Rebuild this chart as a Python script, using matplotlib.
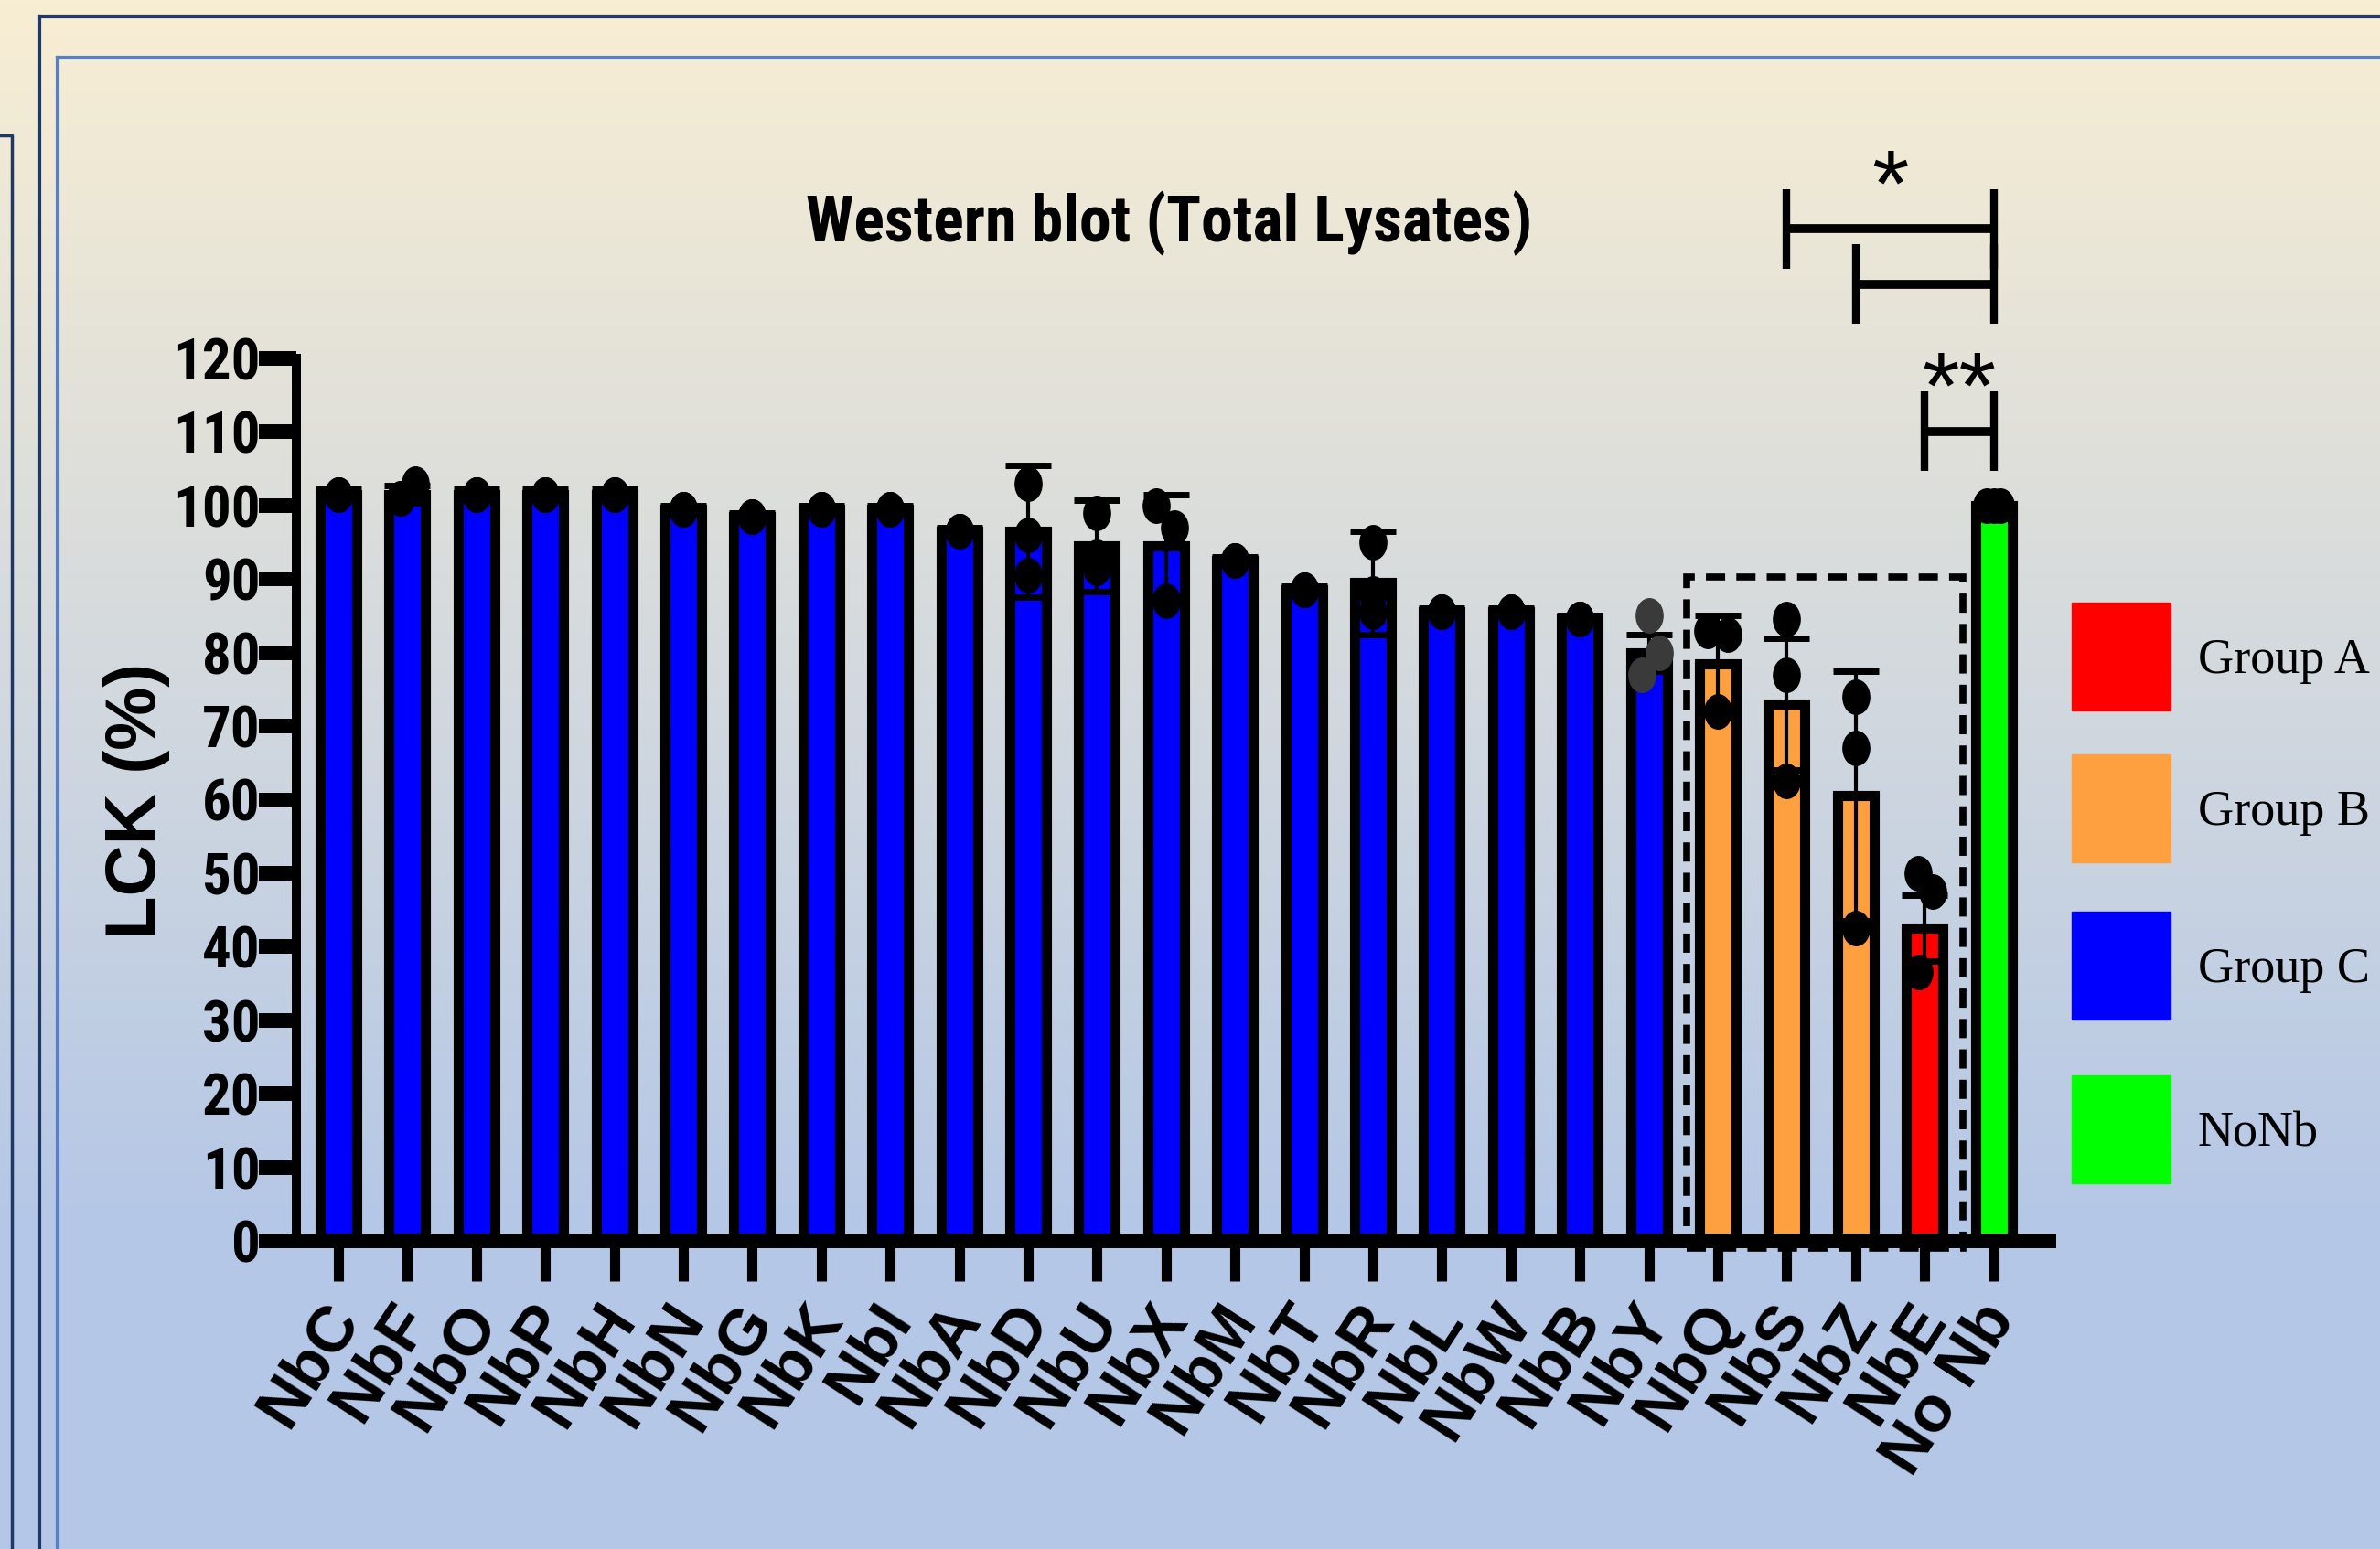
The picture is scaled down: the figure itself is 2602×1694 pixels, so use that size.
import os
import numpy as np
import matplotlib
matplotlib.use("Agg")
import matplotlib.pyplot as plt
from matplotlib import font_manager as fm
from matplotlib.patches import Rectangle
from matplotlib.lines import Line2D
from matplotlib.path import Path
from matplotlib.transforms import Affine2D, ScaledTranslation

# --- data ---
labels = ["NbC", "NbF", "NbO", "NbP", "NbH", "NbN", "NbG", "NbK", "NbI", "NbA",
          "NbD", "NbU", "NbX", "NbM", "NbT", "NbR", "NbL", "NbW", "NbB", "NbY",
          "NbQ", "NbS", "NbZ", "NbE", "No Nb"]
groups = ["Group C"] * 20 + ["Group B"] * 3 + ["Group A", "NoNb"]
means = [101.5, 101.5, 101.5, 101.5, 101.5, 99.5, 98.5, 99.5, 99.5, 96.5,
         96.5, 94.5, 94.5, 92.5, 88.5, 89.5, 85.5, 85.5, 84.5, 80.0,
         78.5, 73.0, 60.5, 42.5, 100.0]
sds = [0.8, 1.2, 0.8, 0.8, 0.8, 0.5, 0.5, 0.5, 0.5, 0.5,
       8.9, 6.2, 7.0, 0.5, 0.5, 7.0, 0.5, 0.5, 0.5, 2.5,
       6.6, 9.0, 17.0, 4.5, 0.0]
points = [[101.5] * 3, [101, 101, 103], [101.5] * 3, [101.5] * 3, [101.5] * 3,
          [99.5] * 3, [98.5] * 3, [99.5] * 3, [99.5] * 3, [96.5] * 3,
          [103, 90.5, 96], [99, 91.5, 93], [100, 97, 87], [92.5] * 3, [88.5] * 3,
          [95, 85.5, 88], [85.5] * 3, [85.5] * 3, [84.5] * 3, [85, 80, 77],
          [83, 82.5, 72], [84.5, 77, 62.5], [74, 67, 42.5], [50, 47.5, 36.5],
          [100, 100, 100]]
point_offsets = [[0, 0, 0], [-0.1, -0.1, 0.12]] + [[0, 0, 0]] * 10 + \
                [[-0.15, 0.12, 0]] + [[0, 0, 0]] * 6 + \
                [[0, 0.15, -0.1], [-0.15, 0.15, 0], [0, 0, 0], [0, 0, 0],
                 [-0.1, 0.12, -0.08], [-0.1, 0, 0.1]]
y_ticks = list(range(0, 121, 10))

group_colors = {"Group A": "#FF0000", "Group B": "#FFA040",
                "Group C": "#0000FF", "NoNb": "#00FF00"}
legend_order = ["Group A", "Group B", "Group C", "NoNb"]

# significance brackets: (start, end, height, stars, star height)
sig_brackets = [("NbS", "No Nb", 137.6, "*", 142.6),
                ("NbZ", "No Nb", 130.1, "", 0),
                ("NbE", "No Nb", 110.1, "**", 115.2)]

W, H = 2602, 1694
sans = ["Liberation Sans", "DejaVu Sans"]
serif = ["Liberation Serif", "DejaVu Serif"]


def find_narrow_bold():
    # the reference uses Arial Narrow-like bold text; take a condensed bold if there is one
    prefs = ["liberationsansnarrow-bold", "arialnarrowbold", "arialnb",
             "robotocondensed-bold", "roboto_condensed-bold",
             "notosans-condensedbold", "notosans-semicondensedbold",
             "opensans-condbold", "opensans_condensed-bold",
             "dejavusanscondensed-bold"]
    files = {}
    for f in fm.fontManager.ttflist:
        key = os.path.basename(f.fname).lower().replace(" ", "").rsplit(".", 1)[0]
        files[key] = f.fname
    for p in prefs:
        if p in files:
            return fm.FontProperties(fname=files[p])
    return fm.FontProperties(family=sans, weight="bold")


narrow_fp = find_narrow_bold()

fig = plt.figure(figsize=(W / 100, H / 100), dpi=100)
renderer = fig.canvas.get_renderer()


def fit_width(txt, target_px):
    w = txt.get_window_extent(renderer=renderer).width
    txt.set_fontsize(txt.get_fontsize() * target_px / w)


# gradient background (cream -> light blue)
bg = fig.add_axes([0, 0, 1, 1], zorder=-10)
top_c = np.array([248, 238, 211]) / 255
bot_c = np.array([180, 199, 231]) / 255
t = np.clip(np.linspace(0, 1, 500) / 0.8, 0, 1)[:, None]
grad = top_c * (1 - t) + bot_c * t
bg.imshow(grad[:, None, :], aspect="auto", extent=[0, 1, 0, 1])
bg.set_axis_off()


def fx(px):
    return px / W


def fy(py):
    return 1 - py / H


# slide frames
navy = "#1F3864"
fig.add_artist(Line2D([fx(43), 1], [fy(18), fy(18)], color=navy, lw=3))
fig.add_artist(Line2D([fx(43), fx(43)], [fy(18), 0], color=navy, lw=3))
fig.add_artist(Line2D([fx(63), 1], [fy(63), fy(63)], color="#5B7FC4", lw=3))
fig.add_artist(Line2D([fx(63), fx(63)], [fy(63), 0], color="#5B7FC4", lw=3))
fig.add_artist(Line2D([0, fx(13), fx(13)], [fy(148), fy(148), 0], color=navy, lw=2.5))

# main axes
ax = fig.add_axes([fx(324), fy(1357), fx(2240) - fx(324), fy(392) - fy(1357)])
ax.patch.set_alpha(0)
x = np.arange(len(labels))
colors = [group_colors[g] for g in groups]

ax.bar(x, means, width=0.53, color=colors, edgecolor="black", linewidth=8, zorder=2)
ax.errorbar(x, means, yerr=sds, fmt="none", ecolor="black", elinewidth=3,
            capsize=18, capthick=5, zorder=3)

ellipse = Path.unit_circle().transformed(Affine2D().scale(0.78, 1.0))
for i, (pts, offs) in enumerate(zip(points, point_offsets)):
    c = "#3A3A3A" if labels[i] == "NbY" else "black"
    ax.scatter(x[i] + np.array(offs), pts, s=27 ** 2, marker=ellipse,
               color=c, zorder=4, clip_on=False)

# dashed box around groups A/B
ax.add_patch(Rectangle((19.55, -1), 4.0, 91.3, fill=False, edgecolor="black",
                       lw=5.5, linestyle=(0, (2.75, 1.6)), clip_on=False, zorder=1))

# significance brackets
idx = {lab: i for i, lab in enumerate(labels)}
for a, b, h, stars, sh in sig_brackets:
    xa, xb = idx[a], idx[b]
    ax.plot([xa, xb], [h, h], color="black", lw=7, clip_on=False, solid_capstyle="butt")
    for xx in (xa, xb):
        ax.plot([xx, xx], [h - 5.4, h + 5.4], color="black", lw=6,
                clip_on=False, solid_capstyle="butt")
    if stars:
        ax.text((xa + xb) / 2, sh, stars, ha="center", va="center",
                fontsize=75, family=sans)

ax.set_xlim(-0.61, 24.8)
ax.set_ylim(0, 120)
ax.spines["top"].set_visible(False)
ax.spines["right"].set_visible(False)
ax.spines["left"].set_linewidth(7.2)
ax.spines["left"].set_bounds(0, 120)
ax.spines["bottom"].set_linewidth(11.5)

ax.set_yticks(y_ticks, [str(v) for v in y_ticks])
ylabels = ax.get_yticklabels()
for lbl in ylabels:
    lbl.set_fontproperties(narrow_fp)
    lbl.set_fontsize(48)
fit_width(ylabels[-1], 95)  # "120" is ~86 px wide in the reference
for lbl in ylabels[:-1]:
    lbl.set_fontsize(ylabels[-1].get_fontsize())
ax.tick_params(axis="y", length=29.5, width=11.5, pad=-1)

ax.set_xticks(x, labels, rotation=57, ha="right", va="center",
              rotation_mode="anchor", fontsize=51, fontweight="bold", family=sans)
ax.tick_params(axis="x", length=32, width=8, pad=22)
shift = ScaledTranslation(6 / 72, 0, fig.dpi_scale_trans)
for lbl in ax.get_xticklabels():
    lbl.set_transform(lbl.get_transform() + shift)

fig.text(fx(149), fy(876), "LCK (%)", rotation=90, ha="center", va="center",
         fontsize=56, fontweight="bold", family=sans)
title = fig.text(fx(1278), fy(244), "Western blot (Total Lysates)", ha="center",
                 va="center", fontproperties=narrow_fp)
title.set_fontsize(52)
fit_width(title, 795)

# legend
legend_y = [659, 825, 997, 1176]
for g, ytop in zip(legend_order, legend_y):
    fig.add_artist(Rectangle((fx(2265), fy(ytop + 118)), fx(108), 118 / H,
                             transform=fig.transFigure, color=group_colors[g]))
    fig.text(fx(2403), fy(ytop + 59 + 18), g, ha="left", va="baseline",
             fontsize=39, family=serif)

fig.savefig("out.png", dpi=100)
